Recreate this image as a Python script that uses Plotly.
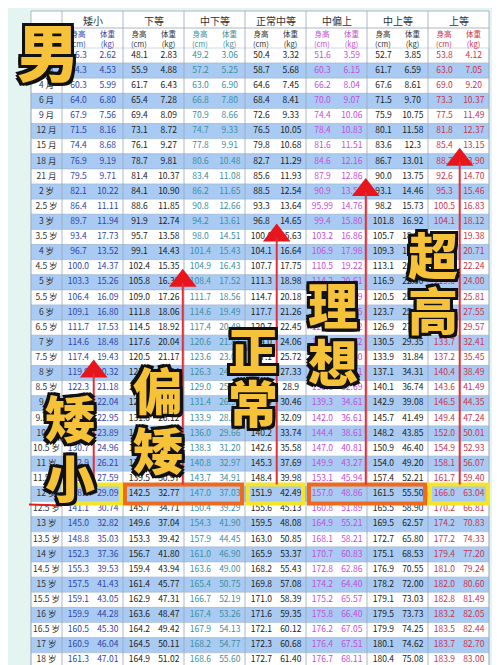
import plotly.graph_objects as go

ages = ["出生","2 月","4 月","6 月","9 月","12 月","15 月","18 月","21 月","2 岁","2.5 岁",
        "3 岁","3.5 岁","4 岁","4.5 岁","5 岁","5.5 岁","6 岁","6.5 岁","7 岁","7.5 岁","8 岁",
        "8.5 岁","9 岁","9.5 岁","10 岁","10.5 岁","11 岁","11.5 岁","12 岁","12.5 岁","13 岁",
        "13.5 岁","14 岁","14.5 岁","15 岁","15.5 岁","16 岁","16.5 岁","17 岁","18 岁"]
groups = ["矮小","下等","中下等","正常中等","中偏上","中上等","上等"]

h0 = [46.3,54.3,60.3,64.0,67.9,71.5,74.4,76.9,79.5,82.1,86.4,89.7,93.4,96.7,100.0,103.3,106.4,109.1,111.7,114.6,117.4,119.9,122.3,124.6,126.7,128.7,130.7,132.9,135.3,138.1,141.1,145.0,148.8,152.3,155.3,157.5,159.1,159.9,160.5,160.9,161.3]
w0 = [2.62,4.53,5.99,6.80,7.56,8.16,8.68,9.19,9.71,10.22,11.11,11.94,17.73,13.52,14.37,15.26,16.09,16.80,17.53,18.48,19.43,20.32,21.18,22.04,22.95,23.89,24.96,26.21,27.59,29.09,30.74,32.82,35.03,37.36,39.53,41.43,43.05,44.28,45.30,46.04,47.01]
h1 = [48.1,55.9,61.7,65.4,69.4,73.1,76.1,78.7,81.4,84.1,88.6,91.9,95.7,99.1,102.4,105.8,109.0,111.8,114.5,117.6,120.5,123.3,126.0,128.6,131.0,133.4,135.1,136.8,139.5,142.5,145.7,149.6,153.3,156.7,159.4,161.4,162.9,163.6,164.2,164.5,164.9]
w1 = [2.83,4.88,6.43,7.28,8.09,8.72,9.27,9.81,10.37,10.90,11.85,12.74,13.58,14.43,15.35,16.33,17.26,18.06,18.92,20.04,21.17,22.34,23.59,24.81,26.12,27.52,28.09,29.33,30.97,32.77,34.71,37.04,39.42,41.80,43.94,45.77,47.31,48.47,49.42,50.11,51.02]
h2 = [49.2,57.2,63.0,66.8,70.9,74.7,77.8,80.6,83.4,86.2,90.8,94.2,98.0,101.4,104.9,108.4,111.7,114.6,117.4,120.6,123.6,126.3,129.0,131.4,133.9,136.0,138.3,140.8,143.7,147.0,150.4,154.3,157.9,161.0,163.6,165.4,166.7,167.4,167.9,168.2,168.6]
w2 = [3.06,5.25,6.90,7.80,8.66,9.33,9.91,10.48,11.08,11.65,12.66,13.61,14.51,15.43,16.43,17.52,18.56,19.49,20.49,21.81,23.01,24.46,25.70,26.98,28.31,29.66,31.20,32.97,34.91,37.03,39.29,41.90,44.45,46.90,49.00,50.75,52.19,53.26,54.13,54.77,55.60]
h3 = [50.4,58.7,64.6,68.4,72.6,76.5,79.8,82.7,85.6,88.5,93.3,96.8,100.6,104.1,107.7,111.3,114.7,117.7,120.7,124.0,127.1,130.0,132.7,135.4,137.9,140.2,142.6,145.3,148.4,151.9,155.6,159.5,163.0,165.9,168.2,169.8,171.0,171.6,172.1,172.3,172.7]
w3 = [3.32,5.68,7.45,8.41,9.33,10.05,10.68,11.29,11.93,12.54,13.64,14.65,15.63,16.64,17.75,18.98,20.18,21.26,22.45,24.06,25.72,27.33,28.9,30.46,32.09,33.74,35.58,37.69,39.98,42.49,45.13,48.08,50.85,53.37,55.43,57.08,58.39,59.35,60.12,60.68,61.40]
h4 = [51.6,60.3,66.2,70.0,74.4,78.4,81.6,84.6,87.9,90.9,95.99,99.4,103.2,106.9,110.5,114.2,117.8,121.0,124.0,127.4,130.6,133.7,136.6,139.3,142.0,144.4,147.0,149.9,153.1,157.0,160.8,164.9,168.1,170.7,172.8,174.2,175.2,175.8,176.2,176.4,176.7]
w4 = [3.59,6.15,8.04,9.07,10.06,10.83,11.51,12.16,12.86,13.51,14.76,15.80,16.86,17.98,19.22,20.61,21.99,23.25,24.72,26.72,28.50,30.71,32.69,34.61,36.61,38.61,40.81,43.27,45.94,48.86,51.89,55.21,58.21,60.83,62.86,64.40,65.57,66.40,67.05,67.51,68.11]
h5 = [52.7,61.7,67.6,71.5,75.9,80.1,83.6,86.7,90.0,93.1,98.2,101.8,105.7,109.3,113.1,116.9,120.5,123.7,126.9,130.5,133.9,137.1,140.1,142.9,145.7,148.2,150.9,154.0,157.4,161.5,165.5,169.5,172.7,175.1,176.9,178.2,179.1,179.5,179.9,180.1,180.4]
w5 = [3.85,6.59,8.61,9.70,10.75,11.58,12.3,13.01,13.75,14.46,15.73,16.92,18.08,19.31,20.60,22.00,23.50,25.20,27.08,29.35,31.84,34.31,36.74,39.08,41.49,43.85,46.40,49.20,52.21,55.50,58.90,62.57,65.80,68.53,70.55,72.00,73.03,73.73,74.25,74.62,75.08]
h6 = [53.8,63.0,69.0,73.3,77.5,81.8,85.4,88.7,92.6,95.3,100.5,104.1,108.1,111.8,115.7,119.6,123.4,126.8,129.9,133.7,137.2,140.4,143.6,146.5,149.4,152.0,154.9,158.1,161.7,166.0,170.2,174.2,177.2,179.4,181.0,182.0,182.8,183.2,183.5,183.7,183.9]
w6 = [4.12,7.05,9.20,10.37,11.49,12.37,13.15,13.90,14.70,15.46,16.83,18.12,19.38,20.71,22.24,24.00,25.81,27.55,29.57,32.41,35.45,38.49,41.49,44.35,47.24,50.01,52.93,56.07,59.40,63.04,66.81,70.83,74.33,77.20,79.24,80.60,81.49,82.05,82.44,82.70,83.00]

heights = [h0,h1,h2,h3,h4,h5,h6]
weights = [w0,w1,w2,w3,w4,w5,w6]
colors = ["#2f45a8","#222222","#3c8fa0","#222222","#c44fd6","#222222","#c8354e"]

# layout (pixels)
X0, AGEW, GW = 23, 31, 61.0
Y_DATA, RH = 40, 15.12
def gx(g): return X0 + AGEW + g * GW
def ry(i): return Y_DATA + i * RH

fig = go.Figure()
shapes = []
n = len(ages)
x_end = gx(len(groups))
# header background
shapes.append(dict(type="rect", x0=X0, x1=x_end, y0=3, y1=Y_DATA, fillcolor="white", line_width=0, layer="below"))
for i in range(n):
    shapes.append(dict(type="rect", x0=X0, x1=x_end, y0=ry(i), y1=ry(i + 1),
                       fillcolor="#a9cbf3" if i % 2 == 1 else "white",
                       line=dict(color="#9fb4cf", width=0.5), layer="below"))
for g in range(len(groups) + 1):
    shapes.append(dict(type="line", x0=gx(g), x1=gx(g), y0=3, y1=ry(n), line=dict(color="#9aa6b6", width=0.8), layer="below"))
shapes.append(dict(type="line", x0=X0, x1=X0, y0=3, y1=ry(n), line=dict(color="#9aa6b6", width=0.8), layer="below"))
shapes.append(dict(type="line", x0=gx(0), x1=x_end, y0=20, y1=20, line=dict(color="#9aa6b6", width=0.8), layer="below"))
shapes.append(dict(type="line", x0=X0, x1=x_end, y0=3, y1=3, line=dict(color="#9aa6b6", width=0.8), layer="below"))

# text
fig.add_trace(go.Scatter(x=[X0 + AGEW / 2] * n, y=[ry(i) + RH / 2 for i in range(n)], text=ages,
                         mode="text", textfont=dict(size=8.5, color="#333"), hoverinfo="skip"))
for g in range(len(groups)):
    for k, vals in enumerate([heights[g], weights[g]]):
        xc = gx(g) + GW * (0.27 + 0.48 * k)
        fig.add_trace(go.Scatter(x=[xc] * n, y=[ry(i) + RH / 2 for i in range(n)],
                                 text=[("%.2f" % v if k else "%.1f" % v) if v not in (95.99, 12.3, 28.9) else str(v) for v in vals],
                                 mode="text", textfont=dict(size=8.5, color=colors[g]), hoverinfo="skip"))
    fig.add_annotation(x=gx(g) + GW / 2, y=12, text=groups[g], showarrow=False, font=dict(size=10, color="#333"))
    sub = colors[g] if colors[g] != "#222222" else "#333"
    fig.add_annotation(x=gx(g) + GW * 0.27, y=30, text="身高<br>(cm)", showarrow=False, font=dict(size=7.5, color=sub))
    fig.add_annotation(x=gx(g) + GW * 0.75, y=30, text="体重<br>(kg)", showarrow=False, font=dict(size=7.5, color=sub))

# 12岁 highlight boxes
r12 = ages.index("12 岁")
yb0, yb1 = ry(r12) - 2, ry(r12 + 1) + 2
boxes = [(gx(0) + 1, gx(1) - 2, "#f4e52a"), (gx(1) + 2, gx(3) - 3, "#ee6a1e"),
         (gx(3) + 3, gx(4) - 3, "#f4e52a"), (gx(4) + 3, gx(6) - 3, "#ee6a1e"), (gx(6) + 2, gx(7) - 1, "#f4e52a")]
for a, b, c in boxes:
    shapes.append(dict(type="rect", x0=a, x1=b, y0=yb0, y1=yb1, line=dict(color=c, width=4)))
shapes.append(dict(type="line", x0=X0 - 2, x1=X0 + AGEW, y0=yb1 + 1, y1=yb1 + 2, line=dict(color="#e02020", width=2)))

# arrows
arrows = [(gx(0) + GW * 0.52, ages.index("8 岁")), (gx(1) + GW * 0.98, ages.index("5 岁")),
          (gx(3) + GW * 0.52, ages.index("3.5 岁")), (gx(4) + GW * 0.98, ages.index("2 岁")),
          (gx(6) + GW * 0.52, ages.index("18 月"))]
for ax, ar in arrows:
    shapes.append(dict(type="line", x0=ax, x1=ax, y0=ry(ar) + 8, y1=yb0, line=dict(color="#e0303a", width=2)))
fig.add_trace(go.Scatter(x=[a for a, _ in arrows], y=[ry(r) + 6 for _, r in arrows], mode="markers",
                         marker=dict(symbol="triangle-up", size=24, color="#e8161c"), hoverinfo="skip"))

stroke = ",".join(f"{dx}px {dy}px 0 #111" for dx in (-3, 0, 3) for dy in (-3, 0, 3))
def big(x, y, t, s=50):
    fig.add_annotation(x=x, y=y, text=t, showarrow=False,
                       font=dict(size=s, color="#f6c23a", family="Noto Sans CJK SC", weight=900, shadow=stroke))
big(40, 42, "男", 62)
big(62, 408, "矮"); big(62, 468, "小")
big(150, 380, "偏"); big(150, 440, "矮")
big(245, 340, "正"); big(245, 393, "常")
big(325, 295, "理"); big(325, 352, "想")
big(425, 245, "超"); big(425, 300, "高")

fig.update_layout(width=500, height=665, margin=dict(l=0, r=0, t=0, b=0),
                  paper_bgcolor="#e4f4f1", plot_bgcolor="#e4f4f1", showlegend=False,
                  font=dict(family="Noto Sans CJK SC"), shapes=shapes,
                  xaxis=dict(range=[0, 500], visible=False, fixedrange=True),
                  yaxis=dict(range=[665, 0], visible=False, fixedrange=True))
fig.write_html("out.html")
